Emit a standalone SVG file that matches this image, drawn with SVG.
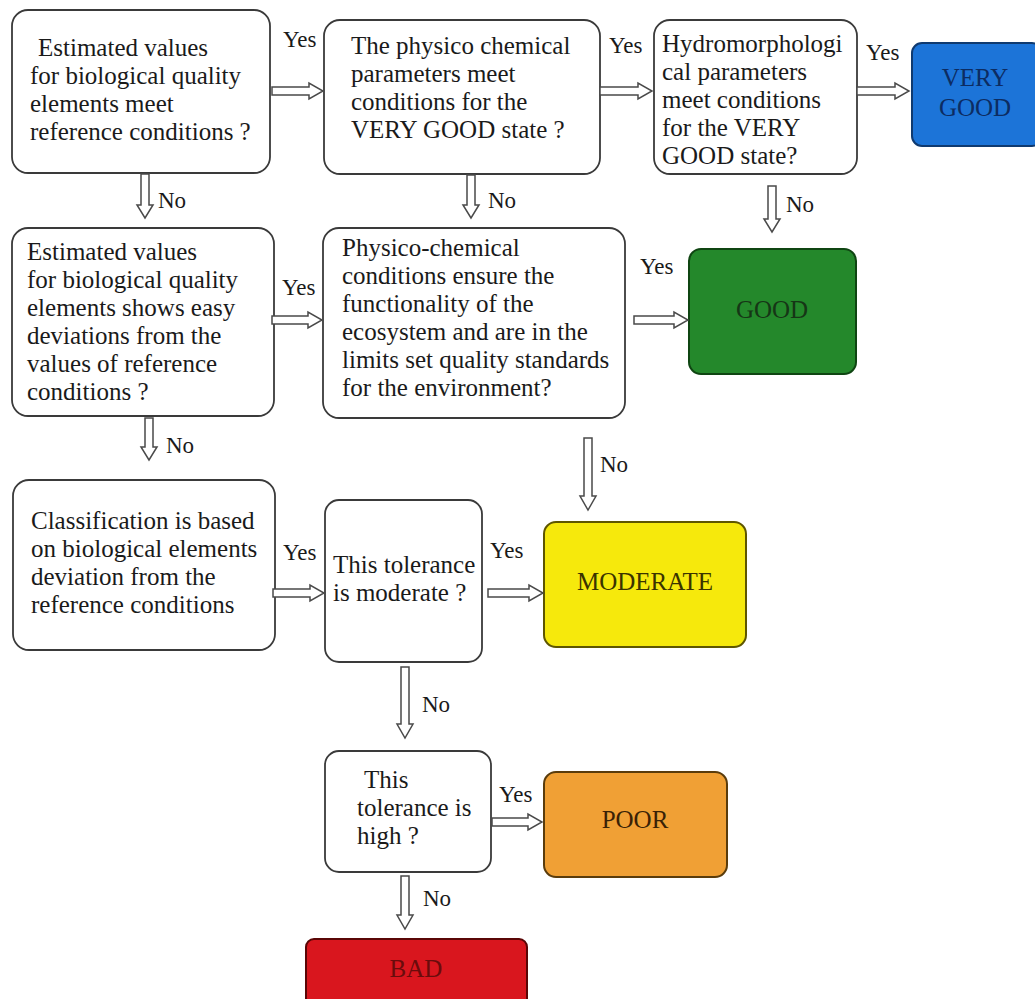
<svg xmlns="http://www.w3.org/2000/svg" width="1035" height="999" viewBox="0 0 1035 999">
<style>
text{font-family:'Liberation Serif','Times New Roman',Times,Tinos,'DejaVu Serif',serif;font-size:25px;fill:#1a1a1a}
.q{fill:#fff;stroke:#3a3a3a;stroke-width:1.8}
.lbl{font-size:23px}
.c{text-anchor:middle}
.arr{fill:#fff;stroke:#4a4a4a;stroke-width:1.5;stroke-linejoin:miter}
</style>
<rect width="1035" height="999" fill="#fff"/>
<g id="n1"><rect class="q" x="12" y="10" width="258" height="163" rx="16"/>
<text x="38" y="56">Estimated values</text><text x="30" y="84">for biological quality</text><text x="30" y="112">elements meet</text><text x="30" y="140">reference conditions ?</text></g>
<g id="n2"><rect class="q" x="324" y="20" width="276" height="154" rx="16"/>
<text x="351" y="54">The physico chemical</text><text x="351" y="82">parameters meet</text><text x="351" y="110">conditions for the</text><text x="351" y="138">VERY GOOD state ?</text></g>
<g id="n3"><rect class="q" x="654" y="20" width="203" height="154" rx="16"/>
<text x="662" y="52">Hydromorphologi</text><text x="662" y="80">cal parameters</text><text x="662" y="108">meet conditions</text><text x="662" y="136">for the VERY</text><text x="662" y="164">GOOD state?</text></g>
<g id="verygood"><rect x="912" y="43" width="130" height="103" rx="10" fill="#1c74d8" stroke="#0f3a70" stroke-width="2"/>
<text class="c" x="975" y="86" style="fill:#0c2c62">VERY</text><text class="c" x="975" y="116" style="fill:#0c2c62">GOOD</text></g>
<g id="n4"><rect class="q" x="12" y="228" width="262" height="188" rx="16"/>
<text x="27" y="260">Estimated values</text><text x="27" y="288">for biological quality</text><text x="27" y="316">elements shows easy</text><text x="27" y="344">deviations from the</text><text x="27" y="372">values of reference</text><text x="27" y="400">conditions ?</text></g>
<g id="n5"><rect class="q" x="323" y="228" width="302" height="190" rx="16"/>
<text x="342" y="256">Physico-chemical</text><text x="342" y="284">conditions ensure the</text><text x="342" y="312">functionality of the</text><text x="342" y="340">ecosystem and are in the</text><text x="342" y="368">limits set quality standards</text><text x="342" y="396">for the environment?</text></g>
<g id="good"><rect x="689" y="249" width="167" height="125" rx="12" fill="#24882b" stroke="#0f4512" stroke-width="2"/>
<text class="c" x="772" y="318" style="fill:#163616">GOOD</text></g>
<g id="n6"><rect class="q" x="13" y="480" width="262" height="170" rx="16"/>
<text x="31" y="529">Classification is based</text><text x="31" y="557">on biological elements</text><text x="31" y="585">deviation from the</text><text x="31" y="613">reference conditions</text></g>
<g id="n7"><rect class="q" x="325" y="500" width="157" height="162" rx="14"/>
<text x="333" y="573">This tolerance</text><text x="333" y="601">is moderate ?</text></g>
<g id="moderate"><rect x="544" y="522" width="202" height="125" rx="12" fill="#f6e90c" stroke="#5e5600" stroke-width="2"/>
<text class="c" x="645" y="590" style="fill:#3a3300">MODERATE</text></g>
<g id="n8"><rect class="q" x="325" y="751" width="166" height="121" rx="14"/>
<text x="364" y="788">This</text><text x="357" y="816">tolerance is</text><text x="357" y="844">high ?</text></g>
<g id="poor"><rect x="544" y="772" width="183" height="105" rx="12" fill="#f0a035" stroke="#5a3c0c" stroke-width="2"/>
<text class="c" x="635" y="828" style="fill:#3a2206">POOR</text></g>
<g id="bad"><rect x="306" y="939" width="221" height="75" rx="8" fill="#d9161e" stroke="#5a0606" stroke-width="2"/>
<text class="c" x="416" y="977" style="fill:#6a0c0c">BAD</text></g>
<g id="connectors">
<path class="arr" d="M272,87 H309 V83 L323,91 L309,99 V95 H272 Z"/>
<path class="arr" d="M600,87 H638 V83 L652,91 L638,99 V95 H600 Z"/>
<path class="arr" d="M857,87 H895 V83 L909,91 L895,99 V95 H857 Z"/>
<path class="arr" d="M272,316 H308 V312 L322,320 L308,328 V324 H272 Z"/>
<path class="arr" d="M634,316 H674 V312 L688,320 L674,328 V324 H634 Z"/>
<path class="arr" d="M273,589 H310 V585 L324,593 L310,601 V597 H273 Z"/>
<path class="arr" d="M488,589 H529 V585 L543,593 L529,601 V597 H488 Z"/>
<path class="arr" d="M492,818 H528 V814 L542,822 L528,830 V826 H492 Z"/>
<path class="arr" d="M141,174 V205 H137 L145,218 L153,205 H149 V174 Z"/>
<path class="arr" d="M467,175 V205 H463 L471,218 L479,205 H475 V175 Z"/>
<path class="arr" d="M768,186 V219 H764 L772,232 L780,219 H776 V186 Z"/>
<path class="arr" d="M145,418 V447 H141 L149,460 L157,447 H153 V418 Z"/>
<path class="arr" d="M584,438 V496 H580 L588,510 L596,496 H592 V438 Z"/>
<path class="arr" d="M401,667 V724 H397 L405,738 L413,724 H409 V667 Z"/>
<path class="arr" d="M401,876 V915 H397 L405,929 L413,915 H409 V876 Z"/>
<text class="lbl" x="283" y="47">Yes</text>
<text class="lbl" x="609" y="53">Yes</text>
<text class="lbl" x="866" y="60">Yes</text>
<text class="lbl" x="282" y="295">Yes</text>
<text class="lbl" x="640" y="274">Yes</text>
<text class="lbl" x="283" y="560">Yes</text>
<text class="lbl" x="490" y="558">Yes</text>
<text class="lbl" x="499" y="802">Yes</text>
<text class="lbl" x="158" y="208">No</text>
<text class="lbl" x="488" y="208">No</text>
<text class="lbl" x="786" y="212">No</text>
<text class="lbl" x="166" y="453">No</text>
<text class="lbl" x="600" y="472">No</text>
<text class="lbl" x="422" y="712">No</text>
<text class="lbl" x="423" y="906">No</text>
</g>
</svg>
